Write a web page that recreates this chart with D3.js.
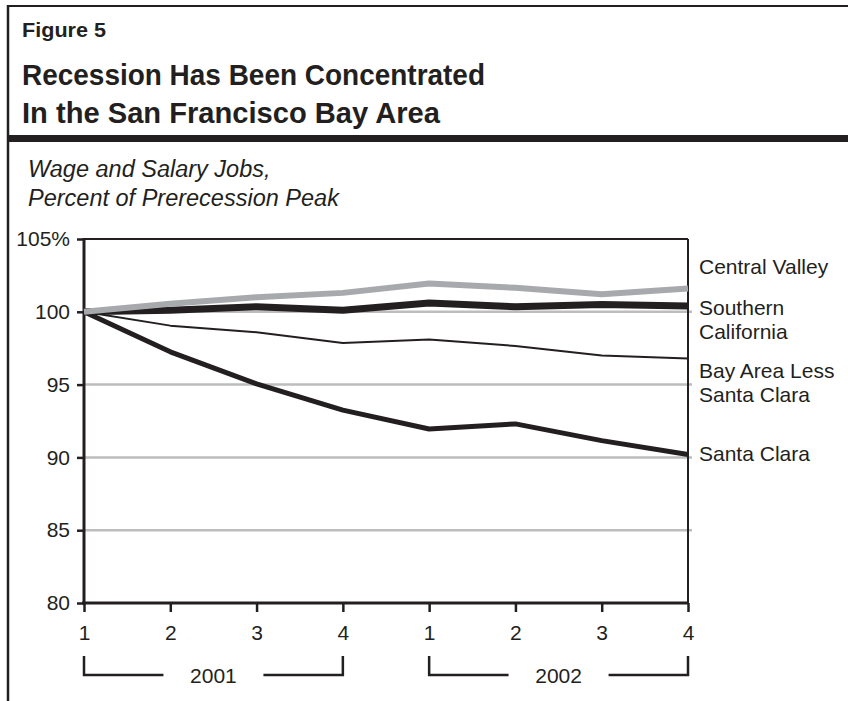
<!DOCTYPE html>
<html>
<head>
<meta charset="utf-8">
<script src="https://cdn.jsdelivr.net/npm/d3@7"></script>
<style>
  html, body { margin: 0; padding: 0; background: #fff; }
  svg { display: block; }
  text { font-family: "Liberation Sans", Arial, sans-serif; fill: #231f20; }
</style>
</head>
<body>
<svg id="chart" width="848" height="701"></svg>
<script>
// Quarterly wage and salary jobs, percent of prerecession peak
const quarters = ["1", "2", "3", "4", "1", "2", "3", "4"];
const years = ["2001", "2002"];
const yTicks = [80, 85, 90, 95, 100, 105];
const gridValues = [85, 90, 95, 100];

const centralValley         = [100, 100.55, 101.0, 101.3, 101.95, 101.65, 101.2, 101.6];
const southernCalifornia    = [100, 100.1, 100.35, 100.1, 100.6, 100.35, 100.5, 100.4];
const bayAreaLessSantaClara = [100, 99.05, 98.6, 97.85, 98.1, 97.65, 97.0, 96.8];
const santaClara            = [100, 97.25, 95.05, 93.25, 91.95, 92.3, 91.15, 90.2];

const seriesNames = ["Santa Clara", "Bay Area Less Santa Clara", "Southern California", "Central Valley"];

const ink = "#231f20";
const svg = d3.select("#chart");

// ---- frame and header ----
svg.append("line").attr("x1", 8).attr("x2", 848).attr("y1", 6).attr("y2", 6)
  .attr("stroke", ink).attr("stroke-width", 2);
svg.append("line").attr("x1", 8).attr("x2", 8).attr("y1", 5).attr("y2", 701)
  .attr("stroke", ink).attr("stroke-width", 2.5);
svg.append("rect").attr("x", 8).attr("y", 135).attr("width", 840).attr("height", 7)
  .attr("fill", ink);

// condensed bold headings: glyphs are squeezed to a fixed run length
svg.append("text").attr("x", 22).attr("y", 37)
  .attr("font-size", 21).attr("font-weight", "bold")
  .attr("textLength", 84).attr("lengthAdjust", "spacingAndGlyphs").text("Figure 5");
svg.append("text").attr("x", 22).attr("y", 85)
  .attr("font-size", 30).attr("font-weight", "bold")
  .attr("textLength", 463).attr("lengthAdjust", "spacingAndGlyphs")
  .text("Recession Has Been Concentrated");
svg.append("text").attr("x", 22).attr("y", 123)
  .attr("font-size", 30).attr("font-weight", "bold")
  .attr("textLength", 418).attr("lengthAdjust", "spacingAndGlyphs")
  .text("In the San Francisco Bay Area");

svg.append("text").attr("x", 28).attr("y", 177)
  .attr("font-size", 23.5).attr("font-style", "italic").text("Wage and Salary Jobs,");
svg.append("text").attr("x", 28).attr("y", 206)
  .attr("font-size", 23.5).attr("font-style", "italic").text("Percent of Prerecession Peak");

// ---- scales ----
const x = d3.scalePoint().domain(d3.range(quarters.length)).range([84, 688]);
const y = d3.scaleLinear().domain([80, 105]).range([603, 239]);

const plot = svg.append("g");

// gridlines
plot.selectAll("line.grid").data(gridValues).join("line")
  .attr("class", "grid")
  .attr("x1", 84).attr("x2", 692)
  .attr("y1", d => y(d)).attr("y2", d => y(d))
  .attr("stroke", "#bdbdbd").attr("stroke-width", 2.5);

// y axis
const yAxis = d3.axisLeft(y).tickValues(yTicks)
  .tickFormat(d => d === 105 ? "105%" : String(d))
  .tickSize(7).tickPadding(7);
const gy = plot.append("g").attr("transform", "translate(84,0)").call(yAxis);
gy.select(".domain").remove();
gy.selectAll(".tick line").attr("stroke", ink).attr("stroke-width", 2.5);
gy.selectAll(".tick text").attr("font-size", 21).attr("fill", ink)
  .attr("font-family", "Liberation Sans, Arial, sans-serif");

// x axis
const xAxis = d3.axisBottom(x).tickFormat(i => quarters[i]).tickSize(9).tickPadding(13);
const gx = plot.append("g").attr("transform", `translate(0,${y(80)})`).call(xAxis);
gx.select(".domain").remove();
gx.selectAll(".tick line").attr("stroke", ink).attr("stroke-width", 2.5);
gx.selectAll(".tick text").attr("font-size", 21).attr("fill", ink)
  .attr("font-family", "Liberation Sans, Arial, sans-serif");

// plot box: heavy left/bottom, lighter top/right
plot.append("line").attr("x1", 84).attr("x2", 688).attr("y1", y(105)).attr("y2", y(105))
  .attr("stroke", ink).attr("stroke-width", 2);
plot.append("line").attr("x1", 688).attr("x2", 688).attr("y1", y(105)).attr("y2", y(80))
  .attr("stroke", ink).attr("stroke-width", 2);
plot.append("line").attr("x1", 84).attr("x2", 84).attr("y1", y(105) - 1).attr("y2", y(80) + 1.5)
  .attr("stroke", ink).attr("stroke-width", 3);
plot.append("line").attr("x1", 82).attr("x2", 689).attr("y1", y(80)).attr("y2", y(80))
  .attr("stroke", ink).attr("stroke-width", 3);

// ---- series lines ----
const line = d3.line().x((d, i) => x(i)).y(d => y(d));
const series = [
  { name: seriesNames[0], values: santaClara,            color: ink,       width: 5 },
  { name: seriesNames[1], values: bayAreaLessSantaClara, color: ink,       width: 2 },
  { name: seriesNames[2], values: southernCalifornia,    color: ink,       width: 7 },
  { name: seriesNames[3], values: centralValley,         color: "#a7a9ac", width: 6 }
];
plot.selectAll("path.series").data(series).join("path")
  .attr("class", "series")
  .attr("d", d => line(d.values))
  .attr("fill", "none")
  .attr("stroke", d => d.color)
  .attr("stroke-width", d => d.width)
  .attr("stroke-linejoin", "round");

// ---- end labels ----
const labelX = 699;
const labelLines = [
  { lines: ["Central Valley"], dy: -15, values: centralValley },
  { lines: ["Southern", "California"], dy: 9, values: southernCalifornia },
  { lines: ["Bay Area Less", "Santa Clara"], dy: 20, values: bayAreaLessSantaClara },
  { lines: ["Santa Clara"], dy: 7, values: santaClara }
];
labelLines.forEach(l => {
  const base = y(l.values[l.values.length - 1]) + l.dy;
  const t = svg.append("text").attr("x", labelX).attr("y", base).attr("font-size", 21);
  l.lines.forEach((s, k) => {
    t.append("tspan").attr("x", labelX).attr("y", base + k * 24).text(s);
  });
});

// ---- year brackets ----
const bracketTop = 656, bracketY = 675;
years.forEach((yr, k) => {
  const x0 = x(k * 4), x1 = x(k * 4 + 3), mid = (x0 + x1) / 2, gap = 50;
  const g = svg.append("g").attr("fill", "none").attr("stroke", ink).attr("stroke-width", 2.5);
  g.append("path").attr("d", `M${x0},${bracketTop}V${bracketY}H${mid - gap}`);
  g.append("path").attr("d", `M${mid + gap},${bracketY}H${x1}V${bracketTop}`);
  svg.append("text").attr("x", mid).attr("y", bracketY + 7.5)
    .attr("text-anchor", "middle").attr("font-size", 21).text(yr);
});
</script>
</body>
</html>
